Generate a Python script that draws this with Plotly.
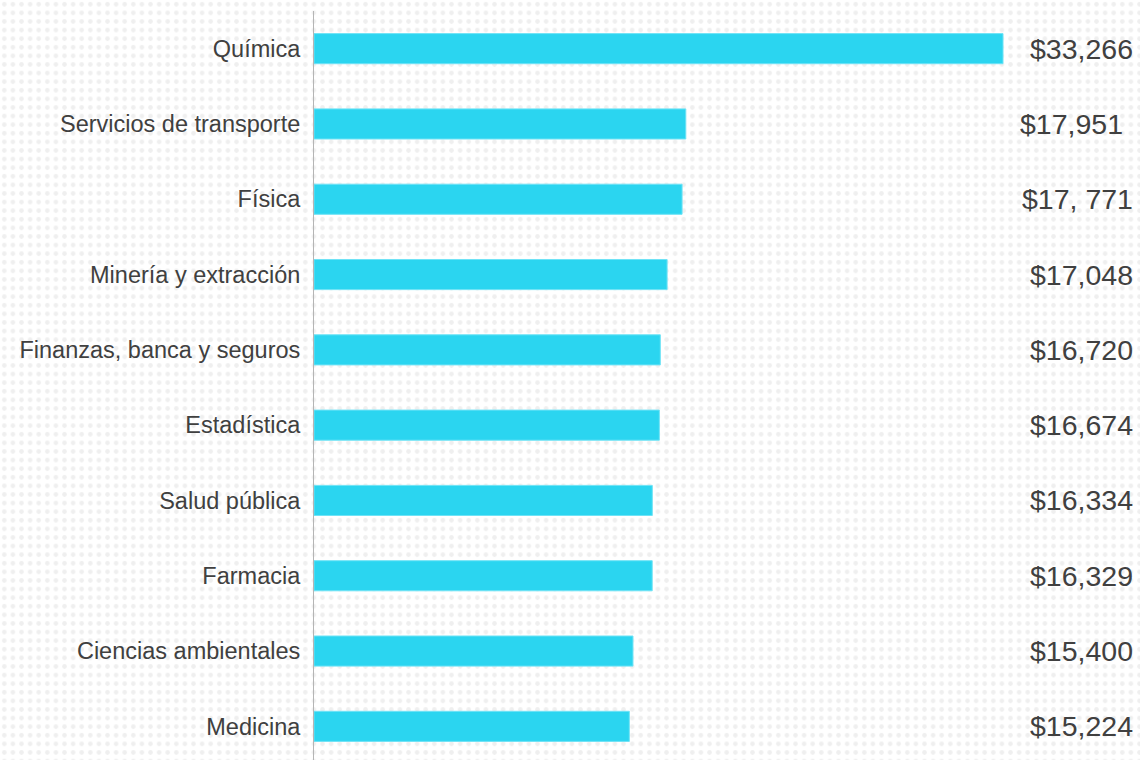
import base64
import plotly.graph_objects as go

categories = ["Química", "Servicios de transporte", "Física", "Minería y extracción",
              "Finanzas, banca y seguros", "Estadística", "Salud pública", "Farmacia",
              "Ciencias ambientales", "Medicina"]
values = [33266, 17951, 17771, 17048, 16720, 16674, 16334, 16329, 15400, 15224]
value_labels = ["$33,266", "$17,951", "$17, 771", "$17,048", "$16,720", "$16,674",
                "$16,334", "$16,329", "$15,400", "$15,224"]
label_shift = [0, -10, 0, 0, 0, 0, 0, 0, 0, 0]

W, H = 1140, 764
L, T = 314, 11

svg = (f'<svg xmlns="http://www.w3.org/2000/svg" width="{W}" height="{H}">'
       '<defs><pattern id="p" width="8.6" height="8.6" patternUnits="userSpaceOnUse">'
       '<circle cx="4.3" cy="4.3" r="2.3" fill="#efefef"/></pattern></defs>'
       f'<rect width="{W}" height="{H}" fill="url(#p)"/></svg>')
src = "data:image/svg+xml;base64," + base64.b64encode(svg.encode()).decode()

pw, ph = W - L, H - T

fig = go.Figure(go.Bar(
    x=values, y=categories, orientation="h", width=0.4,
    marker=dict(color="#2BD5F0", line=dict(color="#6FE3F6", width=1)),
    hoverinfo="x+y",
))

annotations = []
for cat, lab, sh in zip(categories, value_labels, label_shift):
    annotations.append(dict(x=0.994, xref="paper", y=cat, yref="y", text=lab,
                            showarrow=False, xanchor="right", xshift=sh,
                            font=dict(family="Liberation Sans, Arial", size=28.5, color="#404040")))

fig.update_layout(
    width=W, height=H,
    margin=dict(l=L, r=0, t=T, b=0),
    paper_bgcolor="white", plot_bgcolor="rgba(0,0,0,0)",
    showlegend=False,
    images=[dict(source=src, xref="paper", yref="paper",
                 x=-L / pw, y=1 + T / ph, sizex=W / pw, sizey=H / ph,
                 xanchor="left", yanchor="top", sizing="stretch", layer="below")],
    xaxis=dict(range=[0, 39880], visible=False, fixedrange=True),
    yaxis=dict(autorange="reversed", showline=True, linecolor="#b5b5b5", linewidth=1,
               showgrid=False, zeroline=False, ticks="", ticklabelstandoff=8,
               tickfont=dict(family="Liberation Sans, Arial", size=23.5, color="#404040")),
    annotations=annotations,
)

fig.write_html("out.html", config={"displayModeBar": False},
               post_script="document.body.style.margin='0';document.body.style.overflow='hidden';")
